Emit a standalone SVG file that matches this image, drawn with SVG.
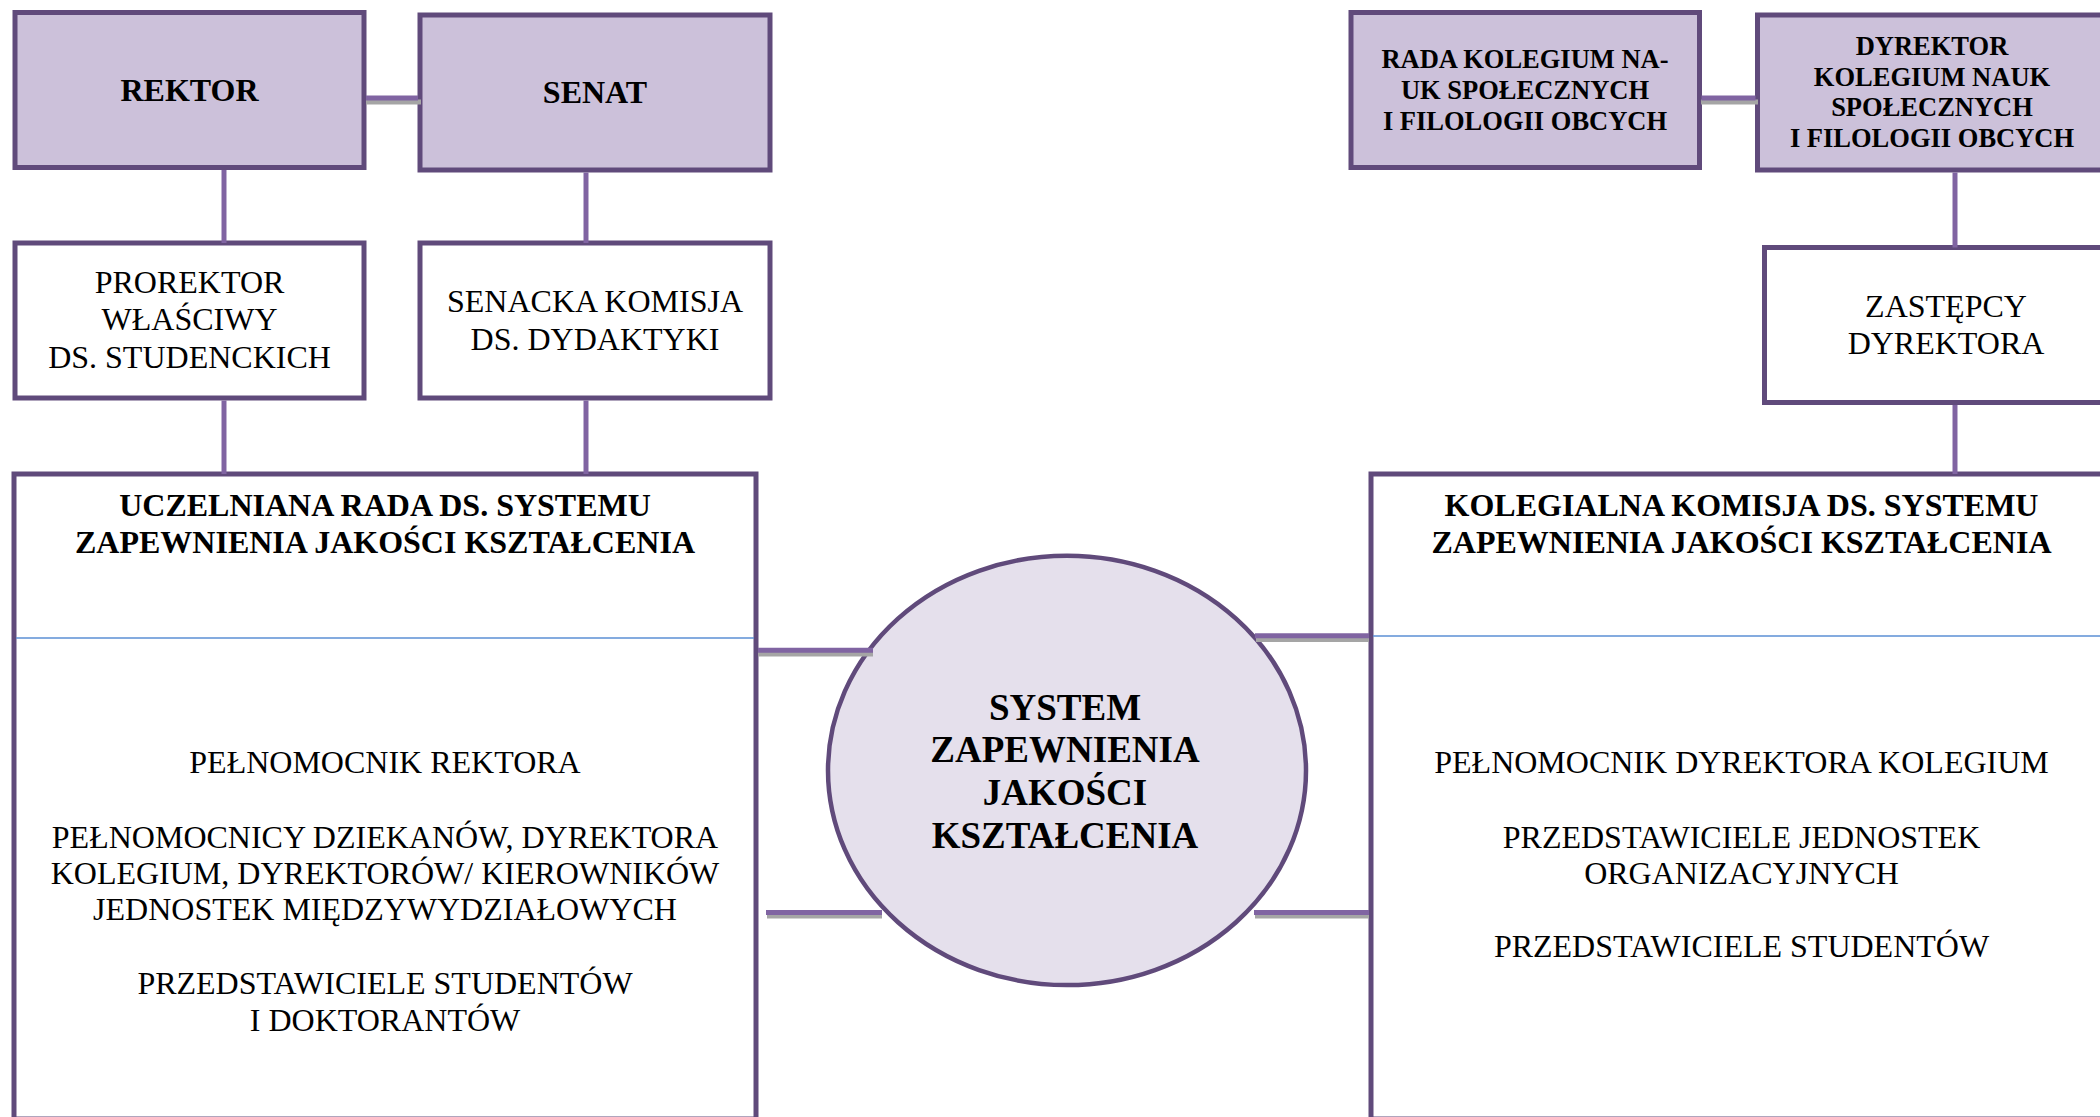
<svg xmlns="http://www.w3.org/2000/svg" width="2100" height="1117" viewBox="0 0 2100 1117">
<style>
.box{stroke:#604a7b;stroke-width:5;fill:#ffffff}
.top{fill:#ccc1da}
.ell{stroke:#604a7b;stroke-width:4.5;fill:#e5e0ec}
.con{stroke:#8064a2;stroke-width:5;fill:none}
.sh{stroke:#a5a5a5;stroke-width:5;fill:none}
.sep{stroke:#5b8fd4;stroke-width:1.6;fill:none}
text{font-family:"Liberation Serif","Times New Roman",serif;fill:#000;text-anchor:middle}
.b{font-weight:bold;font-size:32px}
.r{font-size:32px}
.s{font-weight:bold;font-size:26.5px}
.e{font-weight:bold;font-size:37px}
</style>
<rect width="2100" height="1117" fill="#ffffff"/>
<g id="rektor">
  <rect class="box top" x="15" y="12.5" width="349" height="155"/>
  <text class="b" x="189.5" y="101">REKTOR</text>
</g>
<g id="senat">
  <rect class="box top" x="420" y="15" width="350" height="155"/>
  <text class="b" x="595" y="103">SENAT</text>
</g>
<g id="prorektor">
  <rect class="box" x="15" y="243" width="349" height="155"/>
  <text class="r" x="189.5" y="293">PROREKTOR</text>
  <text class="r" x="189.5" y="330">WŁAŚCIWY</text>
  <text class="r" x="189.5" y="368">DS. STUDENCKICH</text>
</g>
<g id="senacka">
  <rect class="box" x="420" y="243" width="350" height="155"/>
  <text class="r" x="595" y="312">SENACKA KOMISJA</text>
  <text class="r" x="595" y="350">DS. DYDAKTYKI</text>
</g>
<g id="rada">
  <rect class="box top" x="1351" y="12.5" width="348.5" height="155"/>
  <text class="s" x="1525" y="68">RADA KOLEGIUM NA-</text>
  <text class="s" x="1525" y="99">UK SPOŁECZNYCH</text>
  <text class="s" x="1525" y="130">I FILOLOGII OBCYCH</text>
</g>
<g id="dyrektor">
  <rect class="box top" x="1757.5" y="15" width="355" height="155"/>
  <text class="s" x="1932" y="55">DYREKTOR</text>
  <text class="s" x="1932" y="85.5">KOLEGIUM NAUK</text>
  <text class="s" x="1932" y="116">SPOŁECZNYCH</text>
  <text class="s" x="1932" y="147">I FILOLOGII OBCYCH</text>
</g>
<g id="zastepcy">
  <rect class="box" x="1764.5" y="247.5" width="355" height="155"/>
  <text class="r" x="1946" y="316.5">ZASTĘPCY</text>
  <text class="r" x="1946" y="353.5">DYREKTORA</text>
</g>
<g id="uczelniana">
  <rect class="box" x="14" y="474" width="742" height="645"/>
  <line class="sep" x1="16" y1="638" x2="754" y2="638"/>
  <text class="b" x="385" y="516">UCZELNIANA RADA DS. SYSTEMU</text>
  <text class="b" x="385" y="553">ZAPEWNIENIA JAKOŚCI KSZTAŁCENIA</text>
  <text class="r" x="385" y="773">PEŁNOMOCNIK REKTORA</text>
  <text class="r" x="385" y="847.5">PEŁNOMOCNICY DZIEKANÓW, DYREKTORA</text>
  <text class="r" x="385" y="884">KOLEGIUM, DYREKTORÓW/ KIEROWNIKÓW</text>
  <text class="r" x="385" y="920">JEDNOSTEK MIĘDZYWYDZIAŁOWYCH</text>
  <text class="r" x="385" y="994">PRZEDSTAWICIELE STUDENTÓW</text>
  <text class="r" x="385" y="1031">I DOKTORANTÓW</text>
</g>
<g id="kolegialna">
  <rect class="box" x="1371" y="474" width="745" height="645"/>
  <line class="sep" x1="1373" y1="636" x2="2100" y2="636"/>
  <text class="b" x="1741.5" y="516">KOLEGIALNA KOMISJA DS. SYSTEMU</text>
  <text class="b" x="1741.5" y="553">ZAPEWNIENIA JAKOŚCI KSZTAŁCENIA</text>
  <text class="r" x="1741.5" y="773">PEŁNOMOCNIK DYREKTORA KOLEGIUM</text>
  <text class="r" x="1741.5" y="847.5">PRZEDSTAWICIELE JEDNOSTEK</text>
  <text class="r" x="1741.5" y="884">ORGANIZACYJNYCH</text>
  <text class="r" x="1741.5" y="956.5">PRZEDSTAWICIELE STUDENTÓW</text>
</g>
<g id="system">
  <ellipse class="ell" cx="1067" cy="770.4" rx="239" ry="214.7"/>
  <text class="e" x="1065" y="720">SYSTEM</text>
  <text class="e" x="1065" y="762">ZAPEWNIENIA</text>
  <text class="e" x="1065" y="805">JAKOŚCI</text>
  <text class="e" x="1065" y="848">KSZTAŁCENIA</text>
</g>
<g id="connectors">
  <line class="sh" x1="366" y1="102" x2="421" y2="102"/>
  <line class="con" x1="366" y1="98" x2="418" y2="98"/>
  <line class="sh" x1="1701" y1="102" x2="1758" y2="102"/>
  <line class="con" x1="1701.5" y1="98" x2="1755.5" y2="98"/>
  <line class="con" x1="224" y1="170" x2="224" y2="243"/>
  <line class="con" x1="224" y1="400.5" x2="224" y2="474"/>
  <line class="con" x1="586" y1="172.5" x2="586" y2="243"/>
  <line class="con" x1="586" y1="400.5" x2="586" y2="474"/>
  <line class="con" x1="1955" y1="172.5" x2="1955" y2="247.5"/>
  <line class="con" x1="1955" y1="405" x2="1955" y2="474"/>
  <line class="sh" x1="758" y1="654" x2="873" y2="654"/>
  <line class="con" x1="758" y1="650.3" x2="873" y2="650.3"/>
  <line class="sh" x1="767" y1="916" x2="882" y2="916"/>
  <line class="con" x1="766" y1="912.5" x2="882" y2="912.5"/>
  <line class="sh" x1="1256" y1="639.5" x2="1369" y2="639.5"/>
  <line class="con" x1="1255" y1="635.8" x2="1369" y2="635.8"/>
  <line class="sh" x1="1255" y1="916" x2="1369" y2="916"/>
  <line class="con" x1="1254" y1="912.5" x2="1369" y2="912.5"/>
</g>
</svg>
